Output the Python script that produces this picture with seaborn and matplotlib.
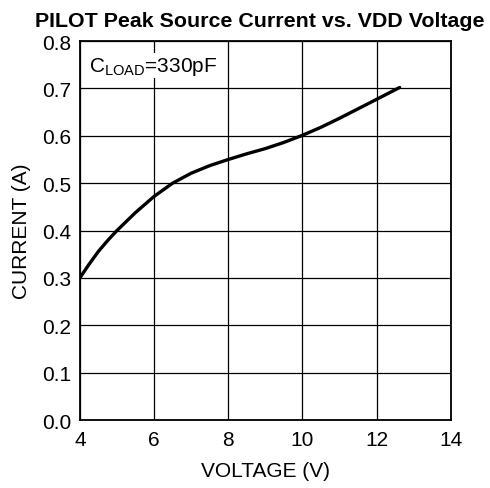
import seaborn as sns
import pandas as pd
import matplotlib.pyplot as plt

voltage = [4, 4.25, 4.5, 4.75, 5, 5.5, 6, 6.5, 7, 7.5, 8, 8.5, 9, 9.5, 10, 10.5, 11, 11.5, 12, 12.62]
current = [0.30, 0.329, 0.356, 0.379, 0.40, 0.438, 0.472, 0.50, 0.521, 0.537, 0.55, 0.562, 0.573, 0.586, 0.601, 0.618, 0.637, 0.657, 0.677, 0.702]
x_ticks = [4, 6, 8, 10, 12, 14]
y_ticks = [0.0, 0.1, 0.2, 0.3, 0.4, 0.5, 0.6, 0.7, 0.8]

df = pd.DataFrame({'VOLTAGE': voltage, 'CURRENT': current})

sns.set_style('white', {'text.color': 'black', 'axes.labelcolor': 'black',
                        'xtick.color': 'black', 'ytick.color': 'black'})
plt.rcParams['font.family'] = ['Liberation Sans', 'DejaVu Sans']
plt.rcParams['mathtext.fontset'] = 'custom'
plt.rcParams['mathtext.rm'] = 'Liberation Sans'

fig = plt.figure(figsize=(4.9, 4.89), dpi=100)
ax = fig.add_axes([0.163, 0.139, 0.757, 0.775])

sns.lineplot(x='VOLTAGE', y='CURRENT', data=df, color='black', linewidth=2.4, ax=ax, zorder=3)

ax.set_xlim(4, 14)
ax.set_ylim(0, 0.8)
ax.set_xticks(x_ticks)
ax.set_yticks(y_ticks)
ax.set_xticklabels([str(t) for t in x_ticks])
ax.set_yticklabels([f'{t:.1f}' for t in y_ticks])
ax.tick_params(length=0, labelsize=15, colors='black')
ax.tick_params(axis='x', pad=7)
ax.tick_params(axis='y', pad=6)
ax.grid(True, color='black', linewidth=0.9)
for s in ax.spines.values():
    s.set_color('black')
    s.set_linewidth(1.3)

ax.set_xlabel('VOLTAGE (V)', fontsize=15, labelpad=9, color='black')
ax.set_ylabel('CURRENT (A)', fontsize=15, labelpad=8, color='black')
ax.set_title('PILOT Peak Source Current vs. VDD Voltage', fontsize=15.4, fontweight='bold',
             pad=11, x=0.485, color='black')

ax.text(0.025, 0.935, r'C$_{\mathregular{LOAD}}$=330pF', transform=ax.transAxes, fontsize=15,
        va='center', ha='left', zorder=4, color='black',
        bbox=dict(facecolor='white', edgecolor='none', pad=1))

plt.savefig('out.png', dpi=100)
